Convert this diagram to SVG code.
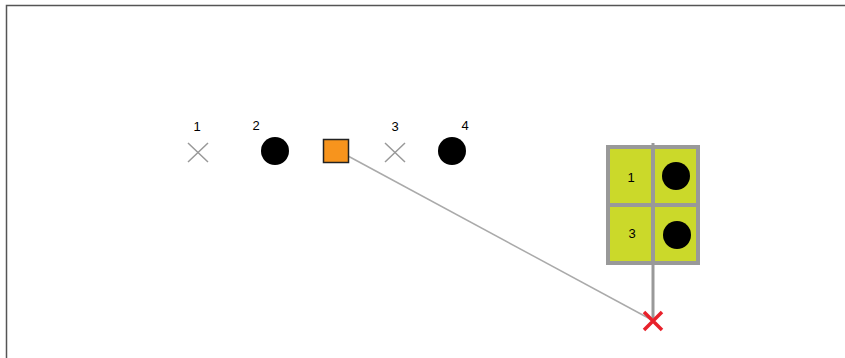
<svg xmlns="http://www.w3.org/2000/svg" width="845" height="358" viewBox="0 0 845 358">
  <style>
    .lbl { font-family: "Liberation Sans", Arial, sans-serif; font-size: 13px; fill: #000; text-anchor: middle; }
    .cross { stroke: #999; stroke-width: 1.5; fill: none; }
    .dot { fill: #000; }
    .grid { stroke: #999; stroke-width: 4; fill: none; }
    .cell { fill: #cbd92a; }
    .link { stroke: #aaa; stroke-width: 1.5; fill: none; }
  </style>
  <rect x="0" y="0" width="845" height="358" fill="#fff"/>
  <!-- frame -->
  <path d="M6.5,358 V5.5 H845" fill="none" stroke="#555" stroke-width="1.5"/>

  <g id="connectors">
    <line class="link" x1="348" y1="156" x2="652" y2="320"/>
    <line x1="653" y1="143" x2="653" y2="318" stroke="#999" stroke-width="3"/>
  </g>

  <g id="node-1">
    <text class="lbl" x="197" y="131">1</text>
    <path class="cross" d="M188,143 L208,162 M208,143 L188,162"/>
  </g>
  <g id="node-2">
    <text class="lbl" x="256" y="130">2</text>
    <circle class="dot" cx="275" cy="151" r="14"/>
  </g>
  <g id="node-square">
    <rect x="323.5" y="139.5" width="25" height="23" fill="#f7941d" stroke="#222" stroke-width="1.5"/>
  </g>
  <g id="node-3">
    <text class="lbl" x="395" y="131">3</text>
    <path class="cross" d="M385,143 L405,162 M405,143 L385,162"/>
  </g>
  <g id="node-4">
    <text class="lbl" x="465" y="130">4</text>
    <circle class="dot" cx="452" cy="151" r="14"/>
  </g>

  <g id="node-grid">
    <rect class="cell" x="608" y="147" width="90" height="116"/>
    <rect class="grid" x="608" y="147" width="90" height="116"/>
    <line class="grid" x1="653" y1="147" x2="653" y2="263"/>
    <line class="grid" x1="608" y1="205" x2="698" y2="205"/>
    <text class="lbl" x="631" y="182">1</text>
    <text class="lbl" x="632" y="238">3</text>
    <circle class="dot" cx="676" cy="176" r="14"/>
    <circle class="dot" cx="677" cy="235" r="14"/>
  </g>

  <g id="node-target">
    <path d="M644,312 L662,330 M662,312 L644,330" stroke="#e8212b" stroke-width="3.5" fill="none"/>
  </g>
</svg>
